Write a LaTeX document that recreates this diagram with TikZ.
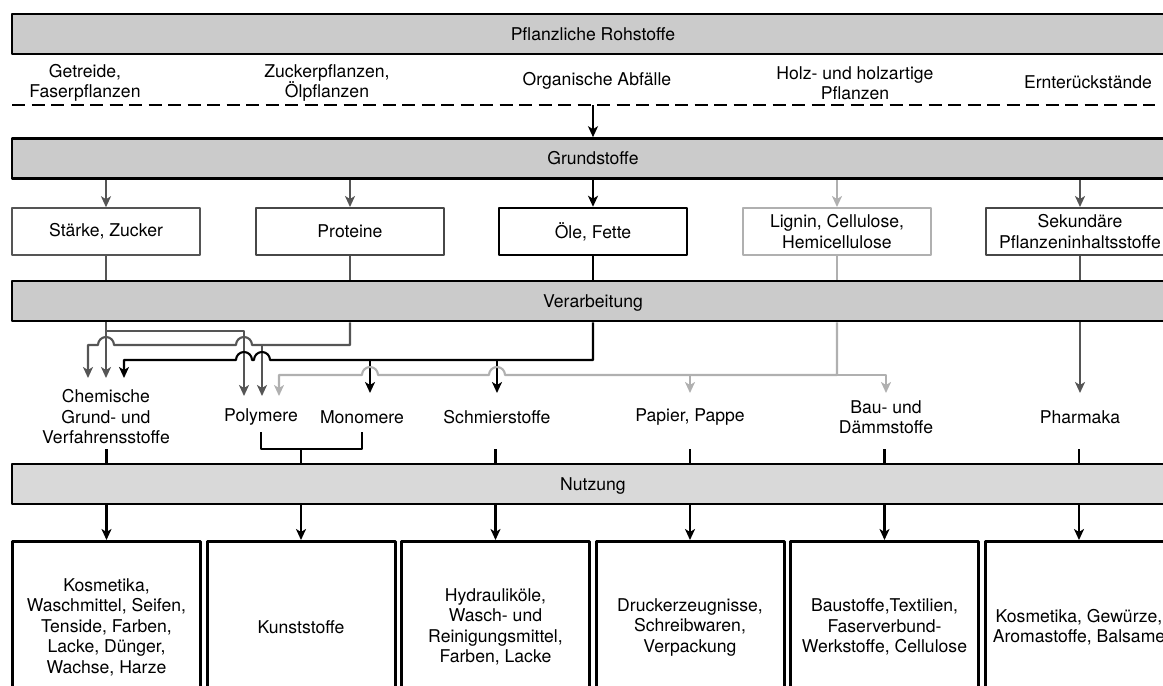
\documentclass[tikz,border=0pt]{standalone}
\usepackage{fontspec}
\setmainfont{TeX Gyre Heros}
\usetikzlibrary{arrows.meta}
\definecolor{barfill}{HTML}{CBCBCB}
\definecolor{barfilllight}{HTML}{D9D9D9}
\definecolor{dgray}{HTML}{555555}
\definecolor{lgray}{HTML}{B0B0B0}
\begin{document}
\begin{tikzpicture}[x=1pt,y=-1pt,line join=round,>={Stealth[length=11pt,width=10pt,inset=3pt]},font=\fontsize{17.6}{20.5}\selectfont]
	\tikzset{bar/.style={draw,line width=2.6pt,fill=barfill,minimum width=1162pt,minimum height=40pt,inner sep=0pt,text height=12pt,text depth=0pt},
		src/.style={align=center,inner sep=0pt},
		stoff/.style={draw,line width=2pt,minimum width=188pt,minimum height=47pt,align=center,inner sep=0pt},
		prod/.style={align=center,inner sep=0pt},
		nutzbox/.style={draw,line width=3pt,minimum width=188pt,minimum height=171pt,align=center,inner sep=0pt},
		con/.style={line width=2.1pt}}
	\useasboundingbox (0,0) rectangle (1163,686);
	\clip (0,0) rectangle (1163,686);
	% bars
	\node[bar] (roh) at (593,34) {Pflanzliche Rohstoffe};
	\node[bar] (grund) at (593,158.5) {Grundstoffe};
	\node[bar] (verarb) at (593,301) {Verarbeitung};
	\node[bar,fill=barfilllight] (nutz) at (593,484) {Nutzung};
	% raw materials
	\node[src] (getr) at (85,83) {Getreide,\\Faserpflanzen};
	\node[src] (zuck) at (327,83) {Zuckerpflanzen,\\Ölpflanzen};
	\node[src] (abf) at (597,81) {Organische Abfälle};
	\node[src] (holz) at (855,83) {Holz- und holzartige\\Pflanzen};
	\node[src] (ernte) at (1088,82) {Ernterückstände};
	\coordinate (dl) at (12,105);
	\coordinate (dr) at (1155,105);
	\draw[line width=2.7pt,dash pattern=on 13pt off 6.5pt] (dl) -- (dr);
	\draw[con,->] (grund.north |- dl) -- (grund.north);
	% basic substances
	\node[stoff,draw=dgray,line width=1.5pt] (st) at (106,231.5) {Stärke, Zucker};
	\node[stoff,draw=black!72] (pr) at (350,231.5) {Proteine};
	\node[stoff,line width=2.5pt] (oe) at (593,231.5) {Öle, Fette};
	\node[stoff,draw=lgray] (li) at (837,231.5) {Lignin, Cellulose,\\Hemicellulose};
	\node[stoff,draw=black!72] (se) at (1080,231.5) {Sekundäre\\Pflanzeninhaltsstoffe};
	\foreach \n/\c in {st/dgray,pr/dgray,oe/black,li/lgray,se/dgray}{
		\draw[con,\c,->] (\n |- grund.south) -- (\n);
		\draw[con,\c] (\n) -- (\n |- verarb.north);
	}
	% products
	\node[prod] (chem) at (106,417) {Chemische\\Grund- und\\Verfahrensstoffe};
	\node[prod] (poly) at (261,417) {Polymere};
	\node[prod] (mono) at (362,417) {Monomere};
	\node[prod] (schm) at (497,417) {Schmierstoffe};
	\node[prod] (pap) at (690,417) {Papier, Pappe};
	\node[prod] (bau) at (886,417) {Bau- und\\Dämmstoffe};
	\node[prod] (pharm) at (1080,417) {Pharmaka};
	\coordinate (ca) at (88,378);
	\coordinate (cb) at (106,378);
	\coordinate (cc) at (124,378);
	\coordinate (pa) at (244,396);
	\coordinate (pb) at (262,396);
	\coordinate (pc) at (279,396);
	\coordinate (ma) at (370,393);
	\coordinate (tprod) at (0,393);
	% Staerke
	\draw[con,dgray,->] (st |- verarb.south) -- (cb);
	\draw[con,dgray,->] (st |- 0,331) -| (pa);
	% Proteine
	\draw[con,dgray,->] (pr |- verarb.south) |- (252,345) arc(0:-180:8) -- (114,345) arc(0:-180:8) -| (ca);
	\draw[con,dgray,->] (pb |- 0,345) -- (pb);
	% Oele
	\draw[con,->] (oe |- verarb.south) |- (270,360) arc(0:-180:8) -- (252,360) arc(0:-180:8) -| (cc);
	\draw[con,->] (ma |- 0,360) -- (ma);
	\draw[con,->] (schm |- 0,360) -- (schm |- tprod);
	% Lignin
	\draw[con,lgray,->] (li |- verarb.south) |- (505,375) arc(0:-180:8) -- (378,375) arc(0:-180:8) -| (pc);
	\draw[con,lgray,->] (li |- 0,375) -| (bau |- tprod);
	\draw[con,lgray,->] (pap |- 0,375) -- (pap |- tprod);
	% Sekundaere
	\draw[con,dgray,->] (se |- verarb.south) -- (pharm |- tprod);
	% uses
	\node[nutzbox] (n1) at (106.5,627) {Kosmetika,\\Waschmittel, Seifen,\\Tenside, Farben,\\Lacke, Dünger,\\Wachse, Harze};
	\node[nutzbox] (n2) at (301,627) {Kunststoffe};
	\node[nutzbox] (n3) at (495.5,627) {Hydrauliköle,\\Wasch- und\\Reinigungsmittel,\\Farben, Lacke};
	\node[nutzbox] (n4) at (690,627) {Druckerzeugnisse,\\Schreibwaren,\\Verpackung};
	\node[nutzbox] (n5) at (884.5,627) {Baustoffe,Textilien,\\Faserverbund-\\Werkstoffe, Cellulose};
	\node[nutzbox] (n6) at (1079,627) {Kosmetika, Gewürze,\\Aromastoffe, Balsame};
	\coordinate (brk) at (0,432);
	\coordinate (bot) at (0,449);
	\draw[con] (poly |- brk) |- (mono |- bot) -- (mono |- brk);
	\foreach \n in {n1,n2,n3,n4,n5,n6}{
		\draw[con] (\n |- bot) -- (\n |- nutz.north);
		\draw[con,->] (\n |- nutz.south) -- (\n);
	}
\end{tikzpicture}
\end{document}
